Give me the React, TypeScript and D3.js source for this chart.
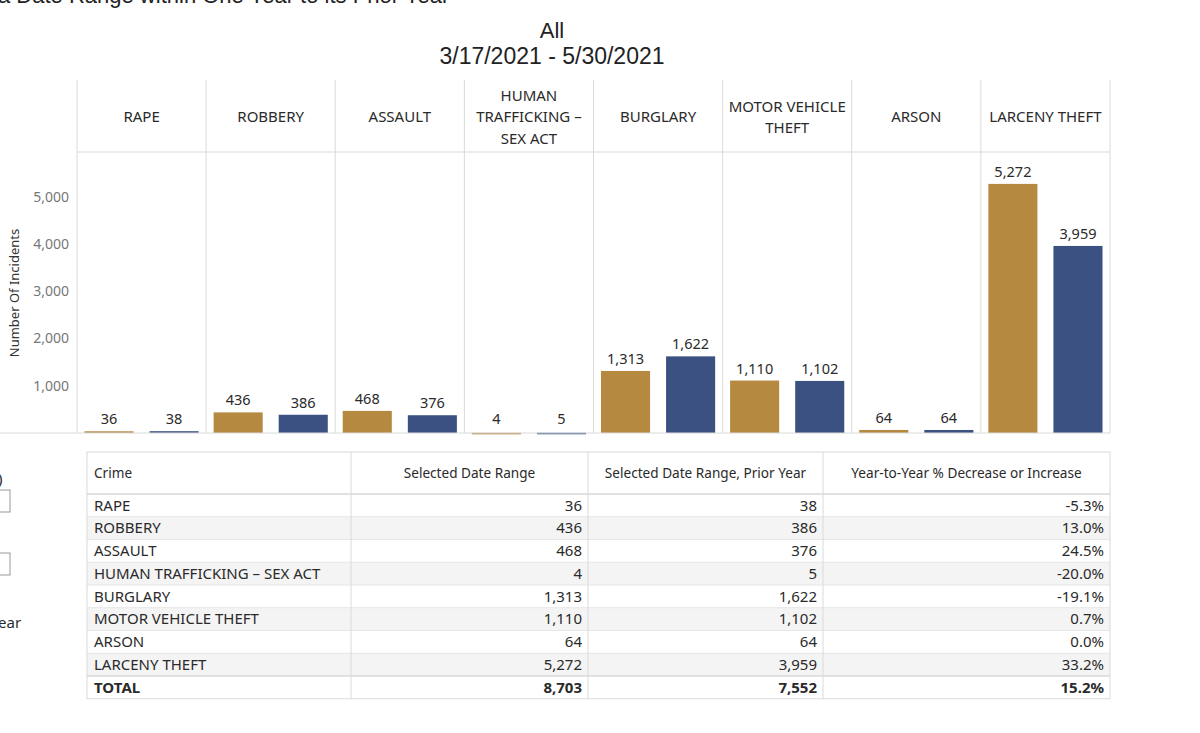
import React from "react";
import * as d3 from "d3";

// crime categories, in chart order
const crimes = [
  "RAPE",
  "ROBBERY",
  "ASSAULT",
  "HUMAN TRAFFICKING – SEX ACT",
  "BURGLARY",
  "MOTOR VEHICLE THEFT",
  "ARSON",
  "LARCENY THEFT",
];
// header labels as wrapped in the column headers
const headerLines = [
  ["RAPE"],
  ["ROBBERY"],
  ["ASSAULT"],
  ["HUMAN", "TRAFFICKING –", "SEX ACT"],
  ["BURGLARY"],
  ["MOTOR VEHICLE", "THEFT"],
  ["ARSON"],
  ["LARCENY THEFT"],
];
const selectedRange = [36, 436, 468, 4, 1313, 1110, 64, 5272];
const priorYear = [38, 386, 376, 5, 1622, 1102, 64, 3959];
const series = ["Selected Date Range", "Selected Date Range, Prior Year"];
const yTicks = [1000, 2000, 3000, 4000, 5000];
const tableHeaders = ["Crime", "Selected Date Range", "Selected Date Range, Prior Year", "Year-to-Year % Decrease or Increase"];

const colors = ["#b5893f", "#3a5182"];
const FONT = "'Noto Sans', 'Open Sans', sans-serif";
const TITLE_FONT = "'Liberation Sans', Arial, sans-serif";
const GRID = "#dadada";
const INK = "#2a2a2a";

const locale = d3.formatLocale({ decimal: ".", thousands: ",", grouping: [3], currency: ["$", ""], minus: "-" });
const fmtNum = locale.format(",");
const fmtPct = locale.format(".1%");

export default function App() {
  const W = 1200, H = 733;
  const plotLeft = 77, plotRight = 1110;
  const headTop = 80, headBottom = 152, baseY = 433;

  const x = d3.scaleBand<string>().domain(crimes).range([plotLeft, plotRight]);
  const xi = d3.scaleBand<string>().domain(series).range([0, x.bandwidth()]).paddingInner(0.246).paddingOuter(0.115);
  const y = d3.scaleLinear().domain([0, 5000]).range([baseY, baseY - 5000 * 0.04725]);

  const values = [selectedRange, priorYear];

  // table geometry
  const tLeft = 87, tRight = 1110;
  const colX = [tLeft, 351, 588, 823, tRight];
  const tTop = 452, headH = 42, rowH = 22.75;
  const totalSel = d3.sum(selectedRange);
  const totalPrior = d3.sum(priorYear);
  const rows = crimes.map((c, i) => ({
    name: c,
    a: selectedRange[i],
    b: priorYear[i],
    total: false,
  }));
  rows.push({ name: "TOTAL", a: totalSel, b: totalPrior, total: true });
  const tBottom = tTop + headH + rowH * rows.length;

  return (
    <div style={{ position: "fixed", left: 0, top: 0 }}>
      <svg width={W} height={H} style={{ display: "block", background: "#fff" }}>
        {/* clipped dashboard title */}
        <text x={-2} y={3} fontFamily={TITLE_FONT} fontSize={22} fill="#222">
          a Date Range within One Year to its Prior Year
        </text>
        <text x={552} y={38} textAnchor="middle" fontFamily={TITLE_FONT} fontSize={22} fill="#222">All</text>
        <text x={552} y={64} textAnchor="middle" fontFamily={TITLE_FONT} fontSize={23} fill="#222">3/17/2021 - 5/30/2021</text>

        {/* panel grid */}
        <line x1={plotLeft} x2={plotRight} y1={headBottom} y2={headBottom} stroke={GRID} />
        {crimes.map((c) => (
          <line key={c} x1={x(c)!} x2={x(c)!} y1={headTop} y2={baseY} stroke={GRID} />
        ))}
        <line x1={plotRight} x2={plotRight} y1={headTop} y2={baseY} stroke={GRID} />

        {/* column headers */}
        {headerLines.map((lines, i) => {
          const cx = x(crimes[i])! + x.bandwidth() / 2;
          const cy = (headTop + headBottom) / 2 + 1;
          const lh = 21.5;
          return (
            <text key={i} textAnchor="middle" fontFamily={FONT} fontSize={15} fill={INK}>
              {lines.map((l, j) => (
                <tspan key={j} x={cx} y={cy + (j - (lines.length - 1) / 2) * lh} dy="0.35em">{l}</tspan>
              ))}
            </text>
          );
        })}

        {/* y axis */}
        {yTicks.map((t) => (
          <text key={t} x={69} y={y(t)} dy="0.35em" textAnchor="end" fontFamily={FONT} fontSize={14} fill="#777">
            {fmtNum(t)}
          </text>
        ))}
        <text transform={`translate(19,293) rotate(-90)`} textAnchor="middle" fontFamily={FONT} fontSize={13} fill="#333">
          Number Of Incidents
        </text>

        {/* bars */}
        {crimes.map((c, i) => (
          <g key={c} transform={`translate(${x(c)},0)`}>
            {series.map((s, k) => {
              const v = values[k][i];
              const bx = xi(s)!;
              return (
                <g key={s}>
                  <rect x={bx} y={y(v)} width={xi.bandwidth()} height={Math.max(baseY - y(v), 1.5)} fill={colors[k]} />
                  <text x={bx + xi.bandwidth() / 2} y={Math.min(y(v), baseY - 2) - 7} textAnchor="middle" fontFamily={FONT} fontSize={14.5} fill={INK}>
                    {fmtNum(v)}
                  </text>
                </g>
              );
            })}
          </g>
        ))}
        <line x1={0} x2={plotRight} y1={baseY} y2={baseY} stroke={GRID} />

        {/* clipped filter controls on the left */}
        <text x={-2} y={484} fontFamily={FONT} fontSize={15} fill={INK}>)</text>
        <rect x={-10} y={490} width={20} height={22} fill="#fff" stroke="#999" />
        <rect x={-10} y={553} width={20} height={22} fill="#fff" stroke="#999" />
        <text x={-2} y={628} fontFamily={FONT} fontSize={15} fill={INK}>ear</text>

        {/* table */}
        {rows.map((r, i) => (
          <rect key={r.name} x={tLeft} y={tTop + headH + i * rowH} width={tRight - tLeft} height={rowH}
            fill={i % 2 === 1 && !r.total ? "#f4f4f4" : "#fff"} />
        ))}
        {rows.map((r, i) => (
          <line key={r.name} x1={tLeft} x2={tRight} y1={tTop + headH + i * rowH} y2={tTop + headH + i * rowH}
            stroke={r.total ? "#c8c8c8" : "#e6e6e6"} />
        ))}
        <rect x={tLeft} y={tTop} width={tRight - tLeft} height={tBottom - tTop} fill="none" stroke={GRID} />
        <line x1={tLeft} x2={tRight} y1={tTop + headH} y2={tTop + headH} stroke="#cfcfcf" />
        {colX.slice(1, -1).map((cx) => (
          <line key={cx} x1={cx} x2={cx} y1={tTop} y2={tBottom} stroke={GRID} />
        ))}
        {tableHeaders.map((h, j) => (
          <text key={h} x={j === 0 ? colX[0] + 7 : (colX[j] + colX[j + 1]) / 2} y={tTop + headH / 2} dy="0.35em"
            textAnchor={j === 0 ? "start" : "middle"} fontFamily={FONT} fontSize={13.6} fill={INK}>
            {h}
          </text>
        ))}
        {rows.map((r, i) => {
          const cy = tTop + headH + i * rowH + rowH / 2;
          const weight = r.total ? 700 : 400;
          const cells = [fmtNum(r.a), fmtNum(r.b), fmtPct((r.a - r.b) / r.b)];
          return (
            <g key={r.name} fontFamily={FONT} fontSize={15} fill={INK} fontWeight={weight}>
              <text x={colX[0] + 7} y={cy} dy="0.35em">{r.name}</text>
              {cells.map((c, j) => (
                <text key={j} x={colX[j + 2] - 6} y={cy} dy="0.35em" textAnchor="end">{c}</text>
              ))}
            </g>
          );
        })}
      </svg>
    </div>
  );
}
